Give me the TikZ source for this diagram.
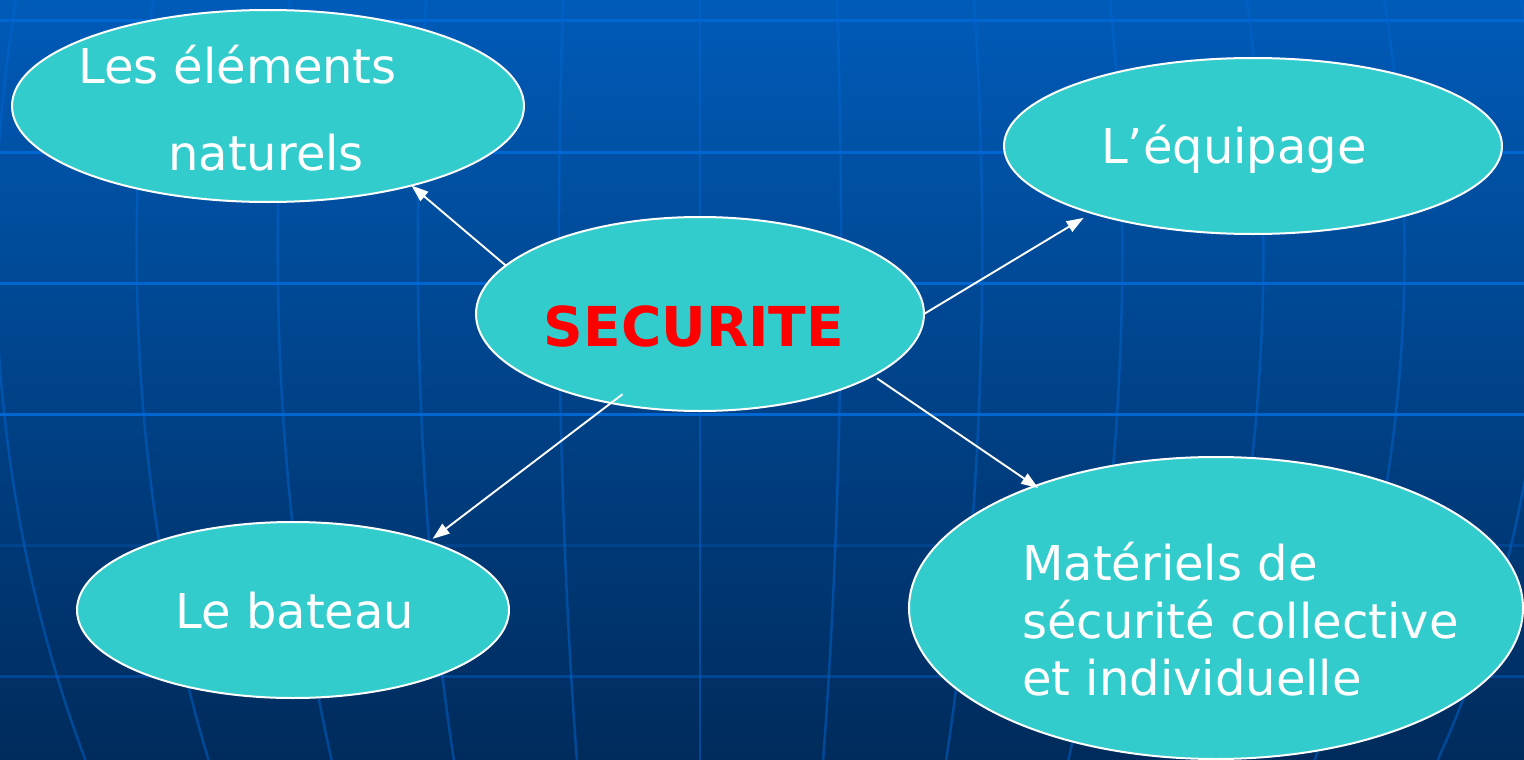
\documentclass[tikz,border=0pt]{standalone}
\usepackage{fontspec}
\setmainfont{DejaVu Sans}
\usetikzlibrary{arrows.meta,calc,shapes.geometric}
\definecolor{bgtop}{RGB}{0,91,184}
\definecolor{bgbot}{RGB}{0,43,92}
\definecolor{gridc}{RGB}{0,102,210}
\definecolor{cyanfill}{RGB}{51,204,204}
\definecolor{secred}{RGB}{255,0,0}
\begin{document}
\begin{tikzpicture}[x=1pt,y=-1pt,
  bubble/.style={ellipse, draw=white, line width=2pt, fill=cyanfill, inner sep=0pt, outer sep=0pt},
  txt/.style={text=white, inner sep=0pt, font=\fontsize{48}{56}\selectfont},
  link/.style={draw=white, line width=1.9pt, -{Triangle[length=17pt,width=12pt]}},
  hline/.style={draw=gridc, line width=3pt},
  vline/.style={draw=gridc, line width=2.5pt, draw opacity=0.5}]
\useasboundingbox (0,0) rectangle (1524,760);
\shade[top color=bgtop, bottom color=bgbot] (0,0) rectangle (1524,760);
% curved meridian lines
\foreach \d in {-821,-684,-547,-410,-274,-137,0,137,274,410,547,684,821}{
  \draw[vline] plot[domain=0:760, samples=30, smooth] ({700+\d*1.03*sqrt(1-((\x-250)/1043)^2)},\x);
}
% horizontal lines
\foreach \yy in {21,152,283,414}{
  \draw[hline] (0,\yy) -- (1524,\yy);
}
\draw[hline, draw opacity=0.25] (0,545) -- (1524,545);
\draw[hline, draw opacity=0.4] (0,676) -- (1524,676);
% bubbles
\node[bubble, minimum width=512pt, minimum height=192pt] (nat) at (268,106) {};
\node[bubble, minimum width=498pt, minimum height=176pt] (equ) at (1253,146) {};
\node[bubble, minimum width=448pt, minimum height=194pt] (sec) at (700,314) {};
\node[bubble, minimum width=432pt, minimum height=176pt] (bat) at (293,610) {};
\node[bubble, minimum width=614pt, minimum height=302pt] (mat) at (1216,608) {};
% connectors
\draw[link] (sec.166.1) -- (nat.-29.3);
\draw[link] (sec.0) -- ($(equ.center)!1.063!(equ.203.1)$);
\draw[link] ($(sec.center)!0.896!(sec.-134.6)$) -- ($(bat.center)!1.035!(bat.27.7)$);
\draw[link] ($(sec.center)!1.033!(sec.-20.3)$) -- ($(mat.center)!0.983!(mat.146.7)$);
% texts
\node[txt, anchor=base west] (t1) at (78,84) {Les éléments};
\node[txt, anchor=base west] (t2) at (168,170) {naturels};
\node[txt, anchor=base west] (t3) at (1101,163) {L’équipage};
\node[txt, anchor=base, text=secred, font=\fontsize{55}{60}\selectfont\bfseries] (t4) at (694,346) {SECURITE};
\node[txt, anchor=base] (t5) at (295,628) {Le bateau};
\node[txt, anchor=base west] (t6) at (1022,580) {Matériels de};
\node[txt, anchor=base west] (t7) at (1022,638) {sécurité collective};
\node[txt, anchor=base west] (t8) at (1022,695) {et individuelle};
\end{tikzpicture}
\end{document}
